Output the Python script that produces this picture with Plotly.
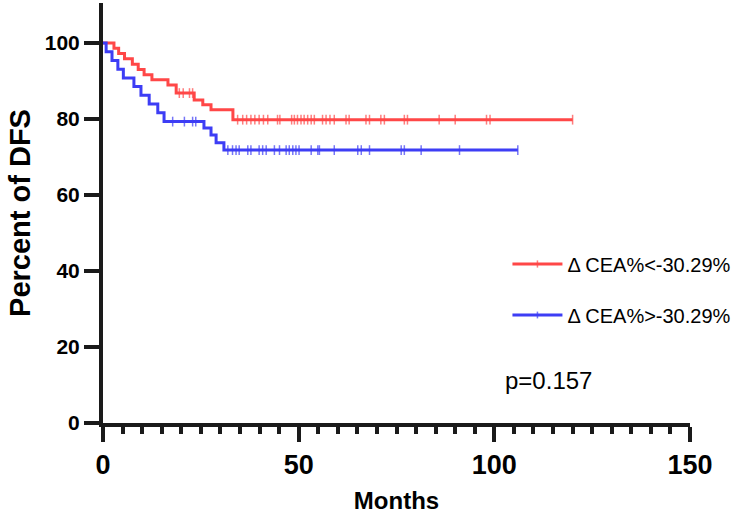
import plotly.graph_objects as go

# ---- data ----
red_event_months = [2.8, 4.0, 5.5, 7.5, 9.0, 10.5, 12.5, 16.6, 18.7, 23.3, 25.5, 27.6, 33.2]
red_event_surv = [98.6, 97.2, 95.8, 94.4, 93.0, 91.6, 90.3, 88.9, 86.8, 85.0, 83.7, 82.4, 79.8]
red_censor_months = [19.5, 20.5, 22.1, 22.9, 34.4, 35.7, 36.7, 37.8, 38.8, 39.9, 41.0, 42.1,
                     44.6, 45.2, 48.2, 48.9, 49.7, 50.6, 51.4, 52.3, 53.2, 54.0, 56.1, 57.0,
                     58.0, 59.1, 62.1, 62.9, 67.2, 68.1, 71.0, 71.9, 77.0, 77.8, 85.9, 90.0,
                     98.0, 98.9, 120.0]

blue_event_months = [0.8, 2.3, 3.8, 5.2, 7.9, 9.7, 11.8, 14.0, 15.6, 25.8, 27.6, 28.9, 30.9]
blue_event_surv = [97.7, 95.4, 93.1, 90.8, 88.5, 86.2, 83.9, 81.6, 79.3, 77.6, 75.8, 73.7, 71.8]
blue_censor_months = [17.8, 20.8, 22.9, 23.7, 31.9, 33.1, 34.0, 34.8, 37.0, 37.8, 39.9, 40.8,
                      41.7, 43.8, 45.1, 46.8, 47.6, 48.5, 49.3, 50.1, 53.2, 54.9, 55.3, 59.1,
                      65.1, 66.0, 68.1, 76.2, 77.0, 81.3, 91.1, 106.0]

series_names = ["\u0394 CEA%<-30.29%", "\u0394 CEA%>-30.29%"]
series_colors = ["#FF4747", "#3D3DF5"]
x_ticks = [0, 50, 100, 150]
y_ticks = [0, 20, 40, 60, 80, 100]
p_text = "p=0.157"


def km_points(ev_t, ev_s, cen_t):
    pts = [(t, s, 0) for t, s in zip(ev_t, ev_s)] + [(t, None, 1) for t in cen_t]
    pts.sort(key=lambda p: (p[0], p[2]))
    xs, ys, sizes = [0], [100], [0]
    cur = 100
    for t, s, c in pts:
        if c == 0:
            cur = s
            xs.append(t); ys.append(cur); sizes.append(0)
        else:
            xs.append(t); ys.append(cur); sizes.append(7)
    return xs, ys, sizes


fig = go.Figure()
groups = [
    (red_event_months, red_event_surv, red_censor_months),
    (blue_event_months, blue_event_surv, blue_censor_months),
]
for i, (et, es, ct) in enumerate(groups):
    xs, ys, sz = km_points(et, es, ct)
    fig.add_trace(go.Scatter(
        x=xs, y=ys, mode="lines+markers", name=series_names[i],
        legendgroup=f"g{i}",
        line=dict(color=series_colors[i], width=3, shape="hv"),
        marker=dict(symbol="line-ns", size=sz, color=series_colors[i],
                    line=dict(width=1.5, color=series_colors[i])),
    ))

axis_color = "#1a1a1a"
fig.update_layout(
    width=750, height=519,
    margin=dict(l=103, r=60, t=3, b=96),
    plot_bgcolor="white", paper_bgcolor="white",
    font=dict(family="Liberation Sans, Arial, sans-serif", color="black"),
    showlegend=True,
    legend=dict(x=0.689, y=0.425, xanchor="left", yanchor="top",
                font=dict(size=20, color="black"), tracegroupgap=22,
                itemwidth=50, bgcolor="rgba(0,0,0,0)"),
    xaxis=dict(range=[0, 150], tickvals=x_ticks, ticktext=[str(v) for v in x_ticks],
               automargin=False,
               showgrid=False, zeroline=False, showline=True, linecolor=axis_color,
               linewidth=4, ticks="outside", ticklen=15, tickwidth=4, tickcolor=axis_color,
               minor=dict(dtick=5, ticks="outside", ticklen=7, tickwidth=4, tickcolor=axis_color),
               tickfont=dict(size=27, family="Liberation Sans, Arial", weight="bold"),
               title=dict(text="<b>Months</b>", font=dict(size=24), standoff=14)),
    yaxis=dict(range=[0, 110.5], tickvals=y_ticks, ticktext=[str(v) for v in y_ticks],
               automargin=False,
               showgrid=False, zeroline=False, showline=True, linecolor=axis_color,
               linewidth=4, ticks="outside", ticklen=15, tickwidth=4, tickcolor=axis_color,
               tickfont=dict(size=21, family="Liberation Sans, Arial", weight="bold"),
               title=dict(text="<b>Percent of DFS</b>", font=dict(size=29), standoff=7)),
    annotations=[dict(x=0.682, y=0.102, xref="paper", yref="paper", text=p_text,
                      showarrow=False, xanchor="left", yanchor="middle",
                      font=dict(size=24, color="black"))],
)

fig.write_html("out.html", config={"displayModeBar": False},
               post_script="document.body.style.margin='0';document.body.style.padding='0';")
